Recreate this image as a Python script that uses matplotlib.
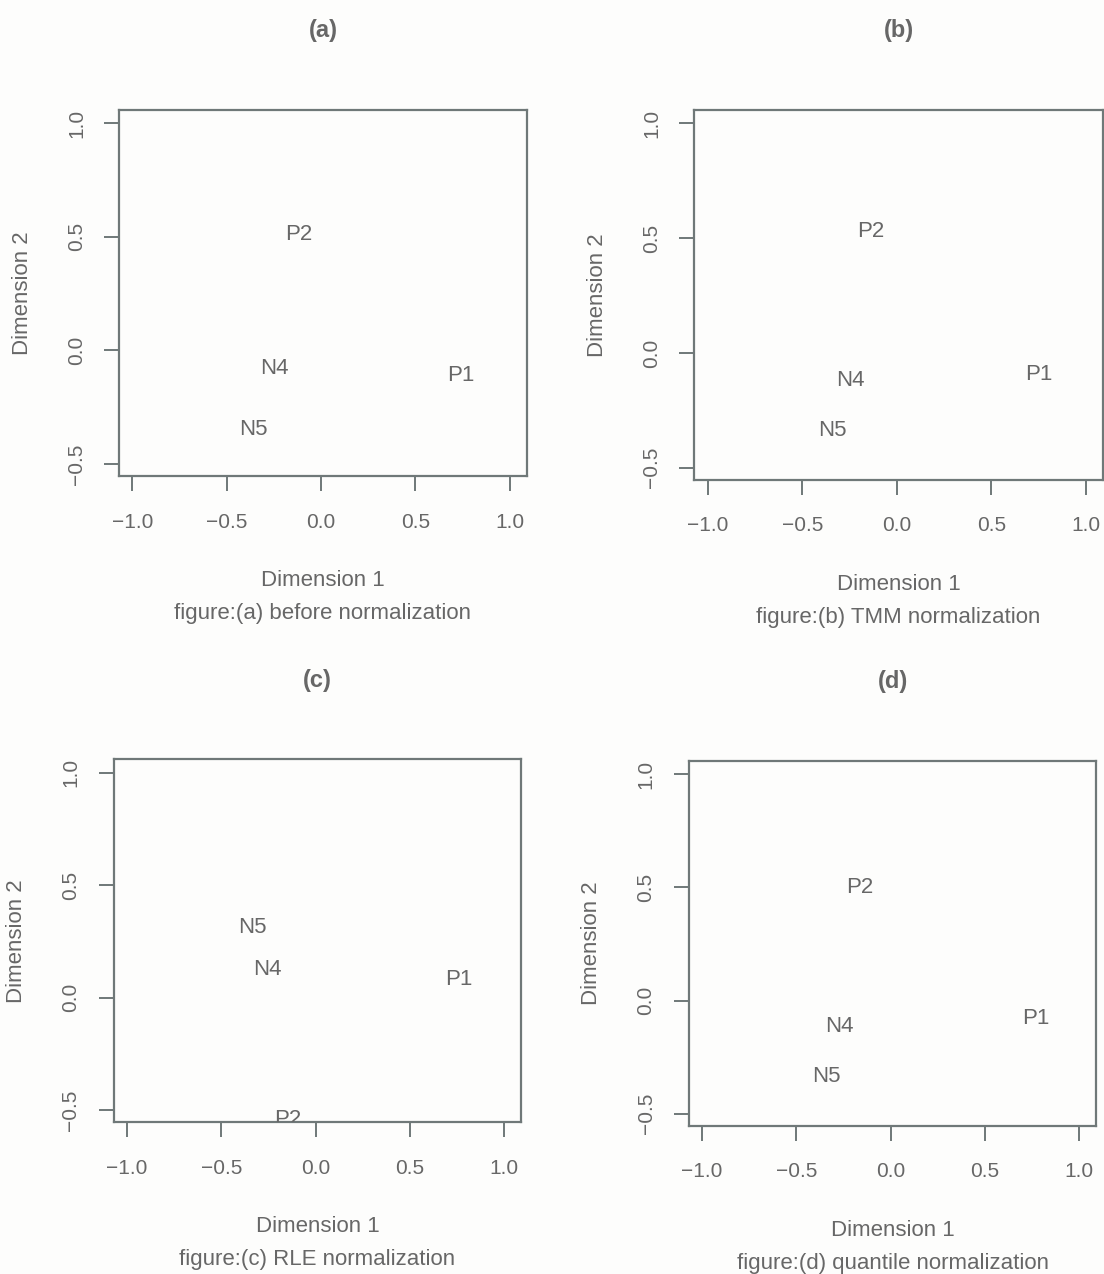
import matplotlib
matplotlib.use("Agg")
import matplotlib.pyplot as plt

plt.rcParams["font.family"] = ["Liberation Sans", "DejaVu Sans"]

# MDS coordinates
samples = ["P1", "P2", "N4", "N5"]

dim1_before = [0.74, -0.12, -0.25, -0.36]
dim2_before = [-0.11, 0.51, -0.08, -0.35]

dim1_tmm = [0.75, -0.14, -0.245, -0.34]
dim2_tmm = [-0.095, 0.53, -0.12, -0.34]

dim1_rle = [0.76, -0.145, -0.255, -0.335]
dim2_rle = [0.08, -0.54, 0.125, 0.31]

dim1_quant = [0.77, -0.165, -0.27, -0.34]
dim2_quant = [-0.08, 0.5, -0.115, -0.335]

panel_tags = ["(a)", "(b)", "(c)", "(d)"]
captions = [
    "figure:(a) before normalization",
    "figure:(b) TMM normalization",
    "figure:(c) RLE normalization",
    "figure:(d) quantile normalization",
]
ticks = [-1.0, -0.5, 0.0, 0.5, 1.0]
yticks = [-0.5, 0.0, 0.5, 1.0]

LINE = "#6f7878"
TEXT = "#676767"
BG = "#fdfdfc"

fig = plt.figure(figsize=(11.04, 12.74), dpi=100, facecolor=BG)

# axes boxes in figure fractions (left, bottom, width, height)
boxes = [
    (0.108, 0.626, 0.369, 0.288),
    (0.629, 0.623, 0.370, 0.291),
    (0.103, 0.119, 0.369, 0.285),
    (0.624, 0.116, 0.369, 0.287),
]
data = [
    (dim1_before, dim2_before),
    (dim1_tmm, dim2_tmm),
    (dim1_rle, dim2_rle),
    (dim1_quant, dim2_quant),
]

for box, (xs, ys), tag, cap in zip(boxes, data, panel_tags, captions):
    ax = fig.add_axes(box)
    ax.set_facecolor(BG)
    ax.set_xlim(-1.07, 1.09)
    ax.set_ylim(-0.555, 1.06)

    for name, x, y in zip(samples, xs, ys):
        ax.text(x, y, name, ha="center", va="center", fontsize=16,
                color=TEXT, clip_on=True)

    for s in ax.spines.values():
        s.set_color(LINE)
        s.set_linewidth(1.6)

    ax.set_xticks(ticks)
    ax.set_xticklabels([f"{t:.1f}".replace("-", "\u2212") for t in ticks])
    ax.set_yticks(yticks)
    ax.set_yticklabels([f"{t:.1f}".replace("-", "\u2212") for t in yticks],
                       rotation=90, va="center")
    ax.tick_params(direction="out", length=11, width=1.4, color=LINE,
                   labelsize=15, labelcolor=TEXT)
    ax.tick_params(axis="x", pad=15)
    ax.tick_params(axis="y", pad=13)

    ax.annotate("Dimension 1", xy=(0.5, 0), xycoords="axes fraction",
                xytext=(0, -75), textcoords="offset points",
                ha="center", va="center", fontsize=16, color=TEXT)
    ax.annotate(cap, xy=(0.5, 0), xycoords="axes fraction",
                xytext=(0, -99), textcoords="offset points",
                ha="center", va="center", fontsize=16, color=TEXT)
    ax.annotate("Dimension 2", xy=(0, 0.5), xycoords="axes fraction",
                xytext=(-70, 0), textcoords="offset points", rotation=90,
                ha="center", va="center", fontsize=16, color=TEXT)
    ax.annotate(tag, xy=(0.5, 1), xycoords="axes fraction",
                xytext=(0, 57), textcoords="offset points",
                ha="center", va="center", fontsize=17, color=TEXT,
                fontweight="bold")

fig.savefig("out.png", dpi=100, facecolor=BG)
